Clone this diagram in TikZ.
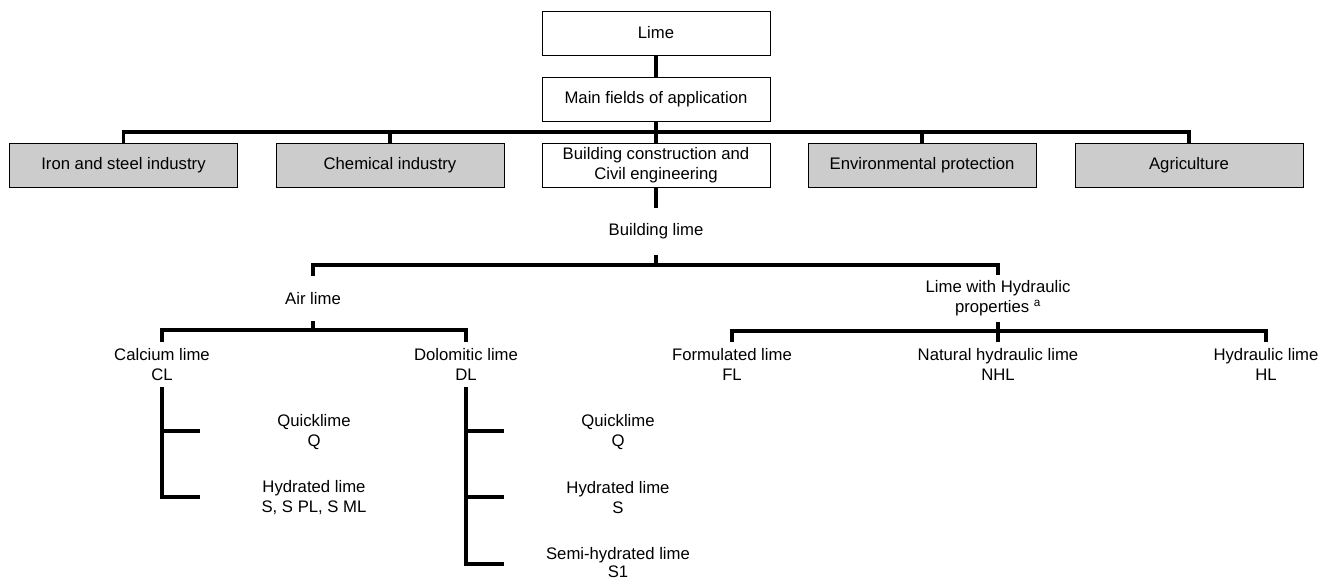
\documentclass[tikz,border=0pt]{standalone}
\usepackage{fontspec}
\setmainfont{Liberation Sans}

\begin{document}
\begin{tikzpicture}[x=1pt, y=-1pt,
        font=\fontsize{16.7}{20}\selectfont,
        box/.style={draw=black, line width=0.9pt, minimum width=228pt, minimum height=44pt, inner sep=0pt, align=center},
        greybox/.style={box, fill=black!20},
        lbl/.style={minimum height=45pt, inner sep=0pt, align=center},
        conn/.style={line width=3.5pt, line join=miter}]
        \def\lev{165.5}
        \def\sub{364.5}
        \def\rowq{432}
        \def\rowh{498}
        \def\rows{562.5}
        \useasboundingbox (0,0) rectangle (1323,580);
        \node[box] (lime) at (656,33) {Lime};
        \node[box] (fields) at (656,99) {Main fields of application};
        \node[greybox] (iron) at (123.5,\lev) {Iron and steel industry};
        \node[greybox] (chem) at (390,\lev) {Chemical industry};
        \node[box] (build) at (656,\lev) {Building construction and\\Civil engineering};
        \node[greybox] (env) at (922,\lev) {Environmental protection};
        \node[greybox] (agri) at (1189,\lev) {Agriculture};
        \coordinate (bus) at (656,132);
        \draw[conn] (lime) -- (fields);
        \draw[conn] (fields) -- (build);
        \draw[conn] (iron) |- (bus) -| (agri);
        \draw[conn] (chem) |- (bus);
        \draw[conn] (env) |- (bus);
        % building lime
        \node[lbl, minimum height=46pt] (blime) at (656,231.5) {Building lime};
        \node[lbl] (air) at (313,298.5) {Air lime};
        \node[lbl, minimum height=47pt] (hyd) at (998,298.5) {Lime with Hydraulic\\properties \textsuperscript{a}};
        \coordinate (bus2) at (656,265);
        \draw[conn] (build) -- (blime);
        \draw[conn] (blime) -- (bus2);
        \draw[conn] (air) |- (bus2) -| (hyd);
        % air lime
        \node[lbl] (cl) at (162,\sub) {Calcium lime\\CL};
        \node[lbl] (dl) at (466,\sub) {Dolomitic lime\\DL};
        \coordinate (bus3) at (313,330);
        \draw[conn] (air) -- (bus3);
        \draw[conn] (cl) |- (bus3) -| (dl);
        % hydraulic
        \node[lbl] (fl) at (732,\sub) {Formulated lime\\FL};
        \node[lbl] (nhl) at (998,\sub) {Natural hydraulic lime\\NHL};
        \node[lbl] (hl) at (1266,\sub) {Hydraulic lime\\HL};
        \coordinate (bus4) at (998,331);
        \draw[conn] (hyd) -- (nhl);
        \draw[conn] (fl) |- (bus4) -| (hl);
        % forms
        \node[lbl] (qcl) at (314,\rowq) {Quicklime\\Q};
        \node[lbl] (hcl) at (314,\rowh) {Hydrated lime\\S, S PL, S ML};
        \node[lbl] (qdl) at (618,\rowq) {Quicklime\\Q};
        \node[lbl] (hdl) at (618,\rowh) {Hydrated lime\\S};
        \node[lbl, font=\fontsize{16.7}{18}\selectfont] (sdl) at (618,\rows) {Semi-hydrated lime\\S1};
        \coordinate (tqcl) at (200,431);
        \coordinate (thcl) at (200,497);
        \coordinate (tqdl) at (504,431);
        \coordinate (thdl) at (504,497);
        \coordinate (tsdl) at (504,564);
        \draw[conn] (cl) |- (thcl);
        \draw[conn] (cl.south |- tqcl) -- (tqcl);
        \draw[conn] (dl) |- (tsdl);
        \draw[conn] (dl.south |- tqdl) -- (tqdl);
        \draw[conn] (dl.south |- thdl) -- (thdl);
\end{tikzpicture}
\end{document}
